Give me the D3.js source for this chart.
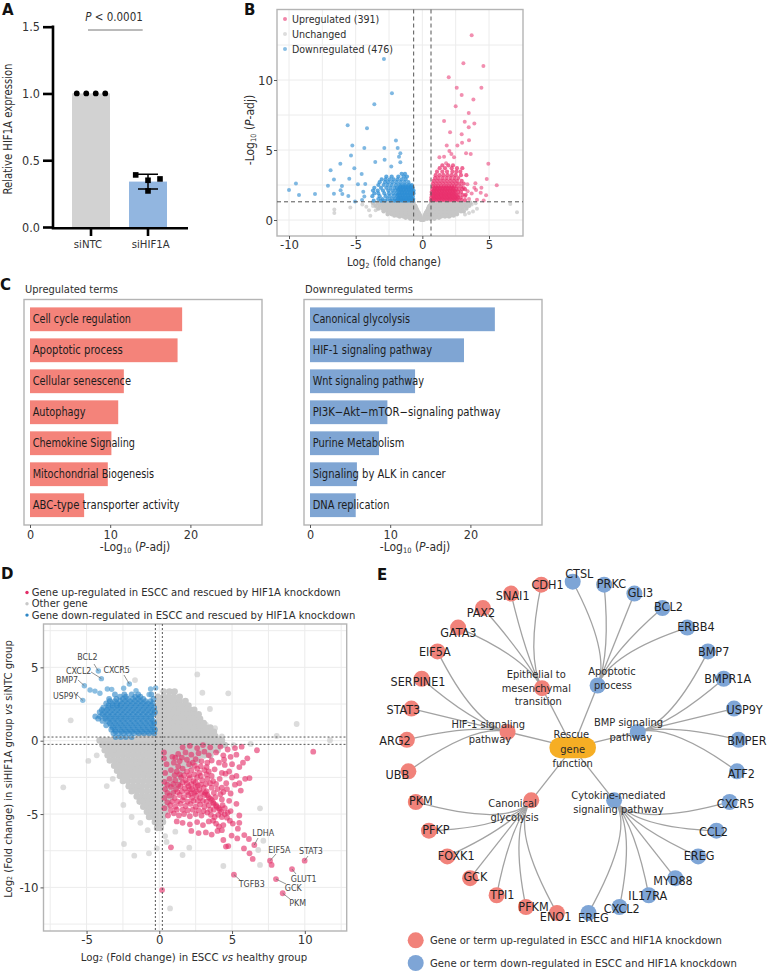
<!DOCTYPE html>
<html><head><meta charset="utf-8">
<script src="https://cdn.jsdelivr.net/npm/d3@7/dist/d3.min.js"></script>
<style>
html,body{margin:0;padding:0;background:#fff}
svg{display:block}
text{font-family:"DejaVu Sans Condensed","DejaVu Sans","Noto Sans",sans-serif;fill:#2e2e2e}
</style></head><body>
<script>
// ---------- Panel A data
const aCategories = ["siNTC","siHIF1A"];
const aMeans = [1, 0.34];
const aError = [0, 0.055];
const aPointsNTC = [1,1,1,1];
const aPointsKD = [0.39,0.35,0.36,0.27];
const aTicks = [0,0.5,1,1.5];

// ---------- Panel B data (x = log2FC, y = -log10 p)
const bUpOutliers = [[3.7,13.2],[3.08,11.2],[4.58,11],[1.98,10.2],[2.58,9.45],[4.43,9.45],[2.95,8.93],[3.83,8.6],[2.5,8.12],[3.48,7.64],[1.63,7.07],[3.18,7.02],[3.9,6.9],[3.48,6.62],[2.08,6.26],[2.95,6.12],[1.83,5.33],[2.63,5.33],[2.98,5.52],[3.5,5.69],[2.03,4.93],[2.18,4.71],[3.28,4.76],[3.63,4.71],[1.28,4.48],[1.63,4.52],[2.38,4.48],[1.78,4.05],[4.95,4.02],[4.83,2.93],[5.58,2.48],[3.98,2.62],[4.43,2.31],[3.38,2.55],[4.03,2.14],[4.38,1.95],[4.78,1.76],[3.1,2.3],[3.7,1.9],[4.1,1.45],[3.5,1.5],[4.6,1.4],[3.2,1.7],[3.9,2.3],[3.4,2.05]];
const bUpCloud = [[3.9,1.5,1.95,2.3],[3.7,1.3,1.7,2.2,2.6,3.0],[3.45,1.1,1.5,1.85,2.25,2.55,2.85],[3.2,1.0,1.3,1.6,1.9,2.2,2.5,2.9,3.3],[3.0,.95,1.2,1.5,1.8,2.1,2.4,2.7],[2.8,.85,1.1,1.35,1.6,1.85,2.1,2.35,2.6,2.95],[2.6,.8,1.05,1.3,1.55,1.8,2.05,2.3,2.55,2.8,3.1],[2.4,.8,1.0,1.2,1.4,1.6,1.8,2.0,2.2,2.4,2.6,2.9],[2.2,.75,.95,1.15,1.35,1.55,1.75,1.95,2.15,2.35,2.55,2.75,3.0,3.2],[2.0,.7,.9,1.1,1.3,1.5,1.7,1.9,2.1,2.3,2.5,2.7,2.9],[1.8,.7,.9,1.1,1.3,1.5,1.7,1.9,2.1,2.3,2.5,2.7,3.0,3.25],[1.6,.68,.88,1.08,1.28,1.48,1.68,1.88,2.08,2.28,2.48,2.68,2.88],[1.42,.66,.86,1.06,1.26,1.46,1.66,1.86,2.06,2.26,2.46,2.7,2.95,3.2],[1.5,.78,.98,1.18,1.38,1.58,1.78,1.98,2.18,2.38,2.58],[1.7,.8,1,1.2,1.4,1.6,1.8,2,2.2,2.4,2.6],[1.9,.8,1,1.2,1.4,1.6,1.8,2,2.2,2.4],[2.1,.85,1.05,1.25,1.45,1.65,1.85,2.05,2.25,2.45],[2.3,.9,1.1,1.3,1.5,1.7,1.9,2.1,2.3]];
const bDownOutliers = [[-2.88,11.5],[-2.28,9.05],[-3.6,8.26],[-5.6,6.76],[-4.15,6.55],[-5.25,5.33],[-4.35,5.14],[-2.85,5.14],[-1.98,5.67],[-1.85,5.14],[-5.35,4.6],[-1.65,4.76],[-1.75,4.52],[-3.53,4.14],[-2.83,4.31],[-1.65,4.12],[-6.15,4.02],[-2.33,3.83],[-5.1,3.69],[-6.88,3.55],[-4.55,3.29],[-5.48,2.95],[-6.63,2.9],[-9.48,2.6],[-10,2.14],[-9.25,1.79],[-8.05,1.86],[-7.08,2.45],[-6.03,2.43],[-6.13,2.12],[-6.63,1.88],[-6,1.86],[-5.55,1.71],[-4.83,2.55],[-4.28,2.57],[-4.43,2.02],[-4.35,1.67],[-4.52,1.43],[-5.05,1.33]];
const bDownCloud = [[3.3,-1.55,-1.3],[3.1,-2.7,-2.3,-1.8,-1.4,-1.15],[2.9,-3.05,-2.75,-2.45,-2.15,-1.85,-1.55,-1.25],[2.7,-3.2,-2.8,-2.55,-2.25,-1.95,-1.65,-1.35,-1.05],[2.5,-3.3,-2.9,-2.6,-2.3,-2.0,-1.75,-1.5,-1.25,-1.0,-.8],[2.3,-3.6,-3.1,-2.7,-2.4,-2.1,-1.9,-1.7,-1.5,-1.3,-1.1,-.9,-.72],[2.1,-3.7,-3.35,-2.95,-2.55,-2.25,-2.0,-1.8,-1.6,-1.4,-1.2,-1.0,-.8,-.66],[1.9,-3.6,-3.3,-2.85,-2.5,-2.2,-1.95,-1.75,-1.55,-1.35,-1.15,-.95,-.75,-.66],[1.7,-3.75,-3.2,-2.75,-2.45,-2.15,-1.9,-1.7,-1.5,-1.3,-1.1,-.9,-.72],[1.5,-3.3,-3.0,-2.6,-2.3,-2.05,-1.85,-1.65,-1.45,-1.25,-1.05,-.85,-.68],[1.38,-3.65,-3.1,-2.8,-2.4,-2.1,-1.9,-1.7,-1.5,-1.3,-1.1,-.9,-.7],[1.45,-1.75,-1.55,-1.35,-1.15,-.95,-.75],[1.6,-1.8,-1.6,-1.4,-1.2,-1,-.8],[1.8,-1.85,-1.65,-1.45,-1.25,-1.05,-.85],[2.0,-1.7,-1.5,-1.3,-1.1,-.9,-.7],[2.2,-1.8,-1.6,-1.4,-1.2,-1,-.8],[2.4,-1.65,-1.45,-1.25,-1.05,-.85]];
const bGreyRows = [[1.22,-3.7,-3.35,-3,-2.7,-2.4,-2.1,-1.8,-1.5,-1.2,-.9,-.66,.66,.9,1.2,1.5,1.8,2.1,2.4,2.7,3,3.3,3.6],[1.02,-3.5,-3.2,-2.9,-2.6,-2.3,-2,-1.7,-1.4,-1.1,-.8,-.55,.55,.8,1.1,1.4,1.7,2,2.3,2.6,2.9,3.2,3.5],[.82,-3.3,-3,-2.7,-2.4,-2.1,-1.8,-1.5,-1.2,-.9,-.65,-.45,.45,.65,.9,1.2,1.5,1.8,2.1,2.4,2.7,3,3.3],[.62,-2.9,-2.6,-2.3,-2,-1.7,-1.4,-1.1,-.8,-.55,-.35,.35,.55,.8,1.1,1.4,1.7,2,2.3,2.6,2.9,3.1],[.42,-2.6,-2.3,-2,-1.7,-1.4,-1.1,-.8,-.5,-.25,.25,.5,.8,1.1,1.4,1.7,2,2.3,2.6],[.25,-1.7,-1.4,-1.1,-.8,-.5,-.2,.2,.5,.8,1.1,1.4,1.7,2],[.1,-.9,-.6,-.35,-.12,.12,.35,.6,.9],[.02,-.1,0,.1],[1.12,-3.1,-2.8,-2.5,-2.2,-1.9,-1.6,-1.3,-1,-.72,.72,1,1.3,1.6,1.9,2.2,2.5,2.8,3.1],[.92,-2.85,-2.55,-2.25,-1.95,-1.65,-1.35,-1.05,-.75,-.5,.5,.75,1.05,1.35,1.65,1.95,2.25,2.55,2.85],[.72,-2.75,-2.45,-2.15,-1.85,-1.55,-1.25,-.95,-.7,-.42,.42,.7,.95,1.25,1.55,1.85,2.15,2.45,2.75],[.52,-2.45,-2.15,-1.85,-1.55,-1.25,-.95,-.65,-.4,-.28,.28,.4,.65,.95,1.25,1.55,1.85,2.15,2.45],[.33,-2.1,-1.85,-1.55,-1.25,-.95,-.65,-.35,-.18,.18,.35,.65,.95,1.25,1.55,1.85,2.1,2.35],[.17,-1.25,-.95,-.65,-.4,-.15,.15,.4,.65,.95,1.25]];
const bGreyOutliers = [[-6.6,.75],[-6.6,.5],[-5.4,.9],[-4.2,.95],[-3.9,.3],[-3.5,.7],[-4.5,1.1],[-4,.7],[-3.7,1],[3.2,.4],[3.5,.5],[6.6,1.15],[7.1,.55],[4.1,.8],[3.8,.6],[3.7,1.1],[4,1.2]];
const bLegend = ["Upregulated (391)","Unchanged","Downregulated (476)"];

// ---------- Panel C data
const cUpTerms = ["Cell cycle regulation","Apoptotic process","Cellular senescence","Autophagy","Chemokine Signaling","Mitochondrial Biogenesis","ABC-type transporter activity"];
const cUpValues = [18.97,18.4,11.7,11,10.15,9.7,6.75];
const cDownTerms = ["Canonical glycolysis","HIF-1 signaling pathway","Wnt signaling pathway","PI3K\u2212Akt\u2212mTOR\u2212signaling pathway","Purine Metabolism","Signaling by ALK in cancer","DNA replication"];
const cDownValues = [23.05,19.2,13.1,9.65,8.6,5.85,5.7];
const cTicks = [0,10,20];

// ---------- Panel D data
const dGreyRows = [[3.35,.3,.7,1.05],[3.0,-.1,.3,.65,1,1.4],[2.7,0,.35,.7,1.05,1.4,1.8],[2.4,-.1,.25,.6,.95,1.3,1.65,2],[2.1,0,.35,.7,1.05,1.4,1.75,2.1,2.4],[1.8,-.1,.25,.6,.95,1.3,1.65,2,2.35,2.7],[1.5,0,.35,.7,1.05,1.4,1.75,2.1,2.45,2.8],[1.2,-.1,.25,.6,.95,1.3,1.65,2,2.35,2.7,3.05],[.9,0,.35,.7,1.05,1.4,1.75,2.1,2.45,2.8,3.15,3.5],[.6,-.1,.25,.6,.95,1.3,1.65,2,2.35,2.7,3.05,3.4,3.75],[.3,-1.4,-1.1,-.75,-.4,0,.35,.7,1.05,1.4,1.75,2.1,2.45,2.8,3.15,3.5,3.85],[.02,-4.1,-3.75,-3.4,-3.05,-2.7,-2.35,-2,-1.65,-1.3,-.95,-.6,-.25,.1,.45,.8,1.15,1.5,1.85,2.2,2.55,2.9,3.25,3.6,3.95,4.3],[-.3,-3.9,-3.55,-3.2,-2.85,-2.5,-2.15,-1.8,-1.45,-1.1,-.75,-.4,-.05,.3,.65,1,1.35,1.7,2.05,2.4,2.75,3.1,3.45,3.8,4.15,4.5],[-.65,-3.75,-3.4,-3.05,-2.7,-2.35,-2,-1.65,-1.3,-.95,-.6,-.25,.1,.45,.8,1.15,1.5,1.85,2.2,2.55,2.9,3.25,3.6,4],[-1,-3.55,-3.2,-2.85,-2.5,-2.15,-1.8,-1.45,-1.1,-.75,-.4,-.05,.3,.65,1,1.35,1.7,2.05,2.4,2.75,3.1,3.5],[-1.35,-3.4,-3.05,-2.7,-2.35,-2,-1.65,-1.3,-.95,-.6,-.25,.1,.45,.8,1.15,1.5,1.85,2.2,2.6],[-1.7,-3.1,-2.8,-2.5,-2.15,-1.8,-1.45,-1.1,-.75,-.4,-.05,.3,.65,1,1.35,1.7,2.1],[-2.05,-2.9,-2.6,-2.3,-1.95,-1.6,-1.25,-.9,-.55,-.2,.15,.5,.85,1.2,1.6],[-2.4,-2.7,-2.4,-2.1,-1.75,-1.4,-1.05,-.7,-.35,0,.35,.7,1.05,1.4],[-2.75,-2.5,-2.15,-1.8,-1.45,-1.1,-.75,-.4,-.05,.3,.65,1,1.35],[-3.1,-2.1,-1.8,-1.5,-1.2,-.85,-.5,-.15,.2,.55,.9,1.25],[-3.45,-1.9,-1.55,-1.2,-.85,-.5,-.15,.2,.55,.95],[-3.8,-1.55,-1.25,-.95,-.65,-.3,.05,.4,.8],[-4.15,-1.35,-1.05,-.75,-.45,-.1,.25,.6],[-4.5,-1.1,-.8,-.5,-.2,.15,.5],[-4.85,-.85,-.55,-.25,.05,.4],[-5.2,-.7,-.4,-.1,.25],[-5.55,-.3,-.05,.25],[-5.95,-.15,.1]];
const dGreyOutliers = [[-6.09,1.39],[2.61,4.52],[-1.67,4.13],[2.96,3.27],[4.74,3.23],[3.48,2.16],[9.44,1.14],[8.07,.32],[11.73,.03],[6.28,-.22],[3.83,.85],[-4.88,-1.38],[-4.3,-1],[-6.6,-3.18],[-3.61,-3.09],[-3.2,-2.6],[-2.47,-4.38],[-1.9,-5.2],[-1.3,-5.6],[-.8,-6.1],[-2.43,-7.04],[-1.72,-7.84],[-.71,-7.68],[-.18,-7.34],[.4,-6.5],[1.1,-6.2],[.5,-6.9],[1.6,-7.79],[2.06,-7.29],[.74,-11.43],[4.4,-8.54],[6.92,-4.61],[7.15,-6.82],[6.8,-7.45],[6.92,-8.47],[3.2,1.1],[4.3,.3],[5.1,-.3]];
const dBlueRows = [[3.15,-3.05,-2.4,-1.9,-1.45,-.55],[2.85,-3.45,-2.95,-2.5,-2.15,-1.8,-1.45,-1.1,-.4],[2.55,-3.65,-3.25,-2.9,-2.55,-2.2,-1.85,-1.5,-1.15,-.8,-.45],[2.25,-3.85,-3.5,-3.15,-2.8,-2.45,-2.1,-1.75,-1.4,-1.05,-.7,-.35],[1.95,-4.1,-3.75,-3.4,-3.05,-2.7,-2.35,-2,-1.65,-1.3,-.95,-.6,-.3],[1.65,-4.4,-4.05,-3.7,-3.35,-3,-2.65,-2.3,-1.95,-1.6,-1.25,-.9,-.55],[1.35,-3.9,-3.55,-3.2,-2.85,-2.5,-2.15,-1.8,-1.45,-1.1,-.75,-.4],[1.05,-3.65,-3.3,-2.95,-2.6,-2.25,-1.9,-1.55,-1.2,-.85,-.5],[.75,-3.3,-3.05,-2.7,-2.35,-2,-1.65,-1.3,-.95,-.6,-.3],[.5,-3.15,-2.8,-2.45,-2.1,-1.75,-1.4,-1.05,-.7,-.35],[.25,-3,-2.65,-2.3,-1.9],[3,-2.7,-2.3,-1.65,-1.3],[2.7,-3.4,-3.05,-2.7,-2.35,-2,-1.65,-1.3,-.95,-.6],[2.4,-3.5,-3.2,-2.9,-2.65,-2.3,-1.95,-1.6,-1.25,-.9,-.55],[2.1,-3.95,-3.6,-3.25,-2.9,-2.55,-2.2,-1.85,-1.5,-1.15,-.8,-.45],[1.8,-3.9,-3.55,-3.2,-2.85,-2.5,-2.15,-1.8,-1.45,-1.1,-.75,-.4],[1.5,-4.2,-3.7,-3.35,-3,-2.65,-2.3,-1.95,-1.6,-1.25,-.9,-.55],[1.2,-3.4,-3.05,-2.7,-2.35,-2,-1.65,-1.3,-.95,-.6,-.35],[.9,-3.2,-2.85,-2.5,-2.15,-1.8,-1.45,-1.1,-.75,-.4],[.62,-3,-2.6,-2.25,-1.9,-1.55,-1.2,-.85,-.5]];
const dBlueOutliers = [[-4.19,4.75],[-3.98,4.23],[-2.06,3.87],[-5.15,3.75],[-5.26,2.75],[-4.76,3.46],[-4.42,3.38],[-4.08,3.23],[-3.57,3.52],[-3.27,3.5],[-2.45,3.58],[-1.6,3.41],[-.6,3.52],[-.25,3.6],[-.7,3.15]];
const dPink = [[1.6,-.45],[2.1,-.35],[2.6,-.5],[3,-.3],[3.5,-.45],[4.2,-.4],[4.7,-.6],[5.2,-.5],[5.66,-.41],[.9,-1.1],[1.3,-.9],[1.8,-.8],[2.2,-.95],[2.7,-.85],[3.1,-.75],[3.4,-1],[3.9,-.8],[4.4,-1],[4.9,-1.1],[5.3,-.95],[.5,-1.6],[1,-1.5],[1.4,-1.4],[1.9,-1.3],[2.3,-1.5],[2.5,-1.25],[2.9,-1.4],[3.3,-1.5],[3.6,-1.35],[4.1,-1.5],[4.5,-1.65],[5,-1.6],[5.5,-1.8],[.4,-2.2],[.8,-2],[1.2,-2.1],[1.6,-1.9],[1.9,-2.1],[2.2,-2],[2.6,-1.9],[2.75,-2.2],[3.1,-2],[3.4,-2.1],[3.8,-1.95],[4.3,-2.2],[4.8,-2.1],[5.3,-2.4],[5.9,-2.6],[.35,-2.8],[.7,-2.6],[1.1,-2.7],[1.5,-2.5],[1.8,-2.7],[2.1,-2.55],[2.35,-2.75],[2.6,-2.5],[2.95,-2.7],[3.3,-2.6],[3.7,-2.75],[4.15,-2.6],[4.6,-2.9],[5.2,-3],[6.2,-2.55],[.4,-3.3],[.8,-3.15],[1.15,-3.3],[1.45,-3.1],[1.75,-3.25],[2,-3.1],[2.25,-3.3],[2.5,-3.15],[2.75,-3.35],[3.05,-3.2],[3.25,-3.45],[3.6,-3.2],[4,-3.3],[4.4,-3.5],[4.9,-3.6],[5.6,-3.4],[.35,-3.9],[.7,-3.75],[1.05,-3.9],[1.4,-3.7],[1.7,-3.85],[2,-3.7],[2.25,-3.9],[2.55,-3.75],[2.8,-3.9],[3.1,-3.7],[3.4,-3.85],[3.6,-4.05],[3.85,-3.85],[4.3,-4],[4.8,-4.1],[5.3,-4.3],[.35,-4.6],[.75,-4.4],[1.1,-4.5],[1.45,-4.3],[1.8,-4.45],[2.15,-4.3],[2.5,-4.5],[2.8,-4.35],[3.1,-4.5],[3.4,-4.4],[3.75,-4.3],[3.95,-4.5],[4.15,-4.7],[4.35,-4.4],[4.9,-4.8],[5.5,-5.1],[.6,-5.1],[1,-4.95],[1.35,-5.1],[1.7,-5],[2.1,-5.15],[2.5,-5],[2.9,-5.1],[3.3,-4.9],[3.55,-5.05],[3.8,-5.2],[4.05,-5.05],[4.3,-5.2],[4.5,-5],[4.65,-5.25],[4.85,-5.45],[5.05,-5.65],[5.5,-5.6],[1.2,-5.5],[1.6,-5.6],[2.1,-5.7],[2.6,-5.55],[3,-5.75],[3.4,-5.5],[3.7,-5.45],[3.9,-5.65],[4.1,-5.85],[4.4,-5.75],[5.4,-6],[2.2,-6.15],[2.7,-6.3],[3.2,-6.25],[3.6,-6.4],[4,-6.15],[4.3,-6.1],[3.3,-3.7],[3.5,-3.95],[3.7,-4.2],[3.9,-4.4],[4.1,-4.6],[3.15,-3.55],[1.9,-2.9],[2.4,-3.55],[2.1,-3.3],[1.3,-1.75],[2.65,-3.05],[.32,-1.2],[.32,-.8],[.8,-7.27],[.19,-10.18],[5.84,-6.43],[6.16,-6.7],[5.82,-7.34],[6.2,-7.68],[6.42,-8.06],[4.4,-6.77],[4.97,-6.47],[5.36,-6.66],[4.58,-7.22],[4.74,-7.18],[6.71,-.65],[10.58,-.75],[6.53,-7.11],[7.61,-8.18],[7.72,-8.47],[9.99,-8.18],[9.12,-8.75],[8.02,-9.43],[8.48,-10.4],[5.13,-9.13],[1.1,-1.15],[1.55,-1.15],[2.05,-1.6],[2.45,-1.7],[2.85,-1.75],[3.25,-1.8],[1.05,-2.35],[1.4,-2.3],[1.7,-2.35],[2.05,-2.35],[2.4,-2.3],[2.85,-2.4],[3.25,-2.3],[3.6,-2.4],[.55,-3],[.95,-2.95],[1.3,-3],[1.6,-2.85],[2.2,-2.95],[2.5,-2.85],[2.85,-3],[3.2,-2.95],[3.5,-2.9],[3.9,-2.95],[.55,-3.55],[.95,-3.55],[1.25,-3.5],[1.55,-3.45],[1.9,-3.5],[2.2,-3.6],[2.55,-3.45],[2.9,-3.55],[3.75,-3.55],[4.2,-3.65],[.55,-4.2],[.9,-4.15],[1.25,-4.15],[1.6,-4.05],[1.95,-4.15],[2.35,-4.1],[2.65,-4.1],[3,-4.1],[3.25,-4.15],[.8,-4.75],[1.2,-4.7],[1.6,-4.7],[1.95,-4.75],[2.3,-4.7],[2.7,-4.75],[3.05,-4.8],[3.5,-4.7],[3.75,-4.7],[4.25,-4.85],[4.5,-4.6],[4.7,-4.9],[4.3,-3.2],[4.65,-3.3],[4.55,-2.25],[5,-2.5],[4.45,-1.3],[5.75,-1.5],[5.5,-2.9],[6.05,-1.2]];
const dLegend = ["Gene up-regulated in ESCC and rescued by HIF1A knockdown","Other gene","Gene down-regulated in ESCC and rescued by HIF1A knockdown"];
const dGeneLabels = ["BCL2","CXCL2","CXCR5","BMP7","USP9Y","LDHA","EIF5A","STAT3","GLUT1","TGFB3","GCK","PKM"];
const dGeneValues = [[-4.19,4.75],[-3.98,4.23],[-2.06,3.87],[-5.15,3.75],[-5.26,2.75],[6.53,-7.11],[7.61,-8.18],[9.99,-8.18],[9.12,-8.75],[5.13,-9.13],[8.02,-9.43],[8.48,-10.4]];

// ---------- Panel E data
const eApoptotic = ["CTSL","PRKC","GLI3","BCL2","ERBB4"];
const eBMP = ["BMP7","BMPR1A","USP9Y","BMPER","ATF2"];
const eCytokine = ["CXCR5","CCL2","EREG","MYD88","IL17RA","CXCL2","EREG"];
const eCanonical = ["ENO1","PFKM","TPI1","GCK","FOXK1","PFKP","PKM"];
const eHIF = ["UBB","ARG2","STAT3","SERPINE1","EIF5A"];
const eEMT = ["GATA3","PAX2","SNAI1","CDH1"];
const eHubs = [
 {name:"Apoptotic process",lines:["Apoptotic","process"],up:false,leaves:eApoptotic},
 {name:"BMP signaling pathway",lines:["BMP signaling","pathway"],up:false,leaves:eBMP},
 {name:"Cytokine-mediated signaling pathway",lines:["Cytokine-mediated","signaling pathway"],up:false,leaves:eCytokine},
 {name:"Canonical glycolysis",lines:["Canonical","glycolysis"],up:true,leaves:eCanonical},
 {name:"HIF-1 signaling pathway",lines:["HIF-1 signaling","pathway"],up:true,leaves:eHIF},
 {name:"Epithelial to mesenchymal transition",lines:["Epithelial to","mesenchymal","transition"],up:true,leaves:eEMT}];
const eLegend = ["Gene or term up-regulated in ESCC and HIF1A knockdown","Gene or term down-regulated in ESCC and HIF1A knockdown"];

// ---------- helpers
const RED="#f1827a", BLUE="#7ea5d6", GRID="#ececec", FRAME="#b4b4b4";
const svg=d3.select("body").append("svg").attr("width",771).attr("height",973).attr("viewBox","0 0 771 973");
const expand=rows=>rows.flatMap(([y,...xs])=>xs.map(x=>[x,y]));
function rich(g,x,y,parts,size,opts={}){
  const t=g.append("text").attr("x",x).attr("y",y).attr("font-size",size).attr("text-anchor",opts.anchor||"middle").attr("dominant-baseline","central");
  if(opts.rotate) t.attr("transform",`rotate(${opts.rotate} ${x} ${y})`);
  if(opts.fill) t.style("fill",opts.fill);
  if(opts.width) t.attr("textLength",opts.width).attr("lengthAdjust","spacingAndGlyphs");
  parts.forEach(p=>{
    const s=t.append("tspan").text(p.t);
    if(p.i) s.attr("font-style","italic");
    if(p.sub) s.attr("font-size",size*0.62).attr("dy",size*0.22);
    if(p.after) s.attr("dy",-size*0.22);
  });
  return t;
}
const letter=(l,x,y)=>svg.append("text").attr("x",x).attr("y",y).attr("font-size",15).attr("font-weight","700").style("font-family","'DejaVu Sans','Noto Sans',sans-serif").style("fill","#111").text(l);
letter("A",2,14.5);letter("B",244,14.5);letter("C",0,290);letter("D",1,579);letter("E",377,580);

function styleAxis(g,size,col){
  g.selectAll("text").attr("font-size",size).style("fill",col||"#333");
  g.select(".domain").remove();
}

// ---------- Panel A
(function(){
  const g=svg.append("g");
  const y=d3.scaleLinear().domain([0,1.5]).range([227,26.7]);
  const x=d3.scaleBand().domain(aCategories).range([72,167]).paddingInner(1/3).paddingOuter(0);
  g.selectAll(".bar").data(aMeans).join("rect").attr("x",(d,i)=>x(aCategories[i])).attr("width",x.bandwidth())
    .attr("y",d=>y(d)).attr("height",d=>y(0)-y(d)).attr("fill",(d,i)=>i?"#92b6e0":"#d2d2d2");
  const yA=g.append("g").attr("transform","translate(53,0)").call(d3.axisLeft(y).tickValues(aTicks).tickFormat(d3.format(".1f")).tickSize(10).tickPadding(3));
  styleAxis(yA,12.5);yA.selectAll("line").attr("stroke","#000").attr("stroke-width",2.6);
  const xA=g.append("g").attr("transform","translate(0,227)").call(d3.axisBottom(x).tickSize(9).tickPadding(4));
  styleAxis(xA,11.3);xA.selectAll("line").attr("stroke","#000").attr("stroke-width",2.6);
  xA.selectAll("text").attr("dx",(d,i)=>i?2.7:-3);
  g.append("path").attr("d",d3.line()([[53,25.4],[53,228.3],[188,228.3]])).attr("fill","none").attr("stroke","#000").attr("stroke-width",2.6);
  const cx=x(aCategories[0]), w=x.bandwidth();
  g.selectAll(".p1").data(aPointsNTC).join("circle").attr("cx",(d,i)=>cx+w*(i+0.5)/4).attr("cy",d=>y(d)).attr("r",2.9).attr("fill","#000");
  const cx2=x(aCategories[1])+w/2, sx=[-12.3,0,12,0];
  g.selectAll(".p2").data(aPointsKD).join("rect").attr("x",(d,i)=>cx2+sx[i]-2.8).attr("y",d=>y(d)-2.8).attr("width",5.6).attr("height",5.6).attr("fill","#000");
  const hi=y(aMeans[1]+aError[1]), lo=y(aMeans[1]-aError[1]);
  g.append("path").attr("d",`M${cx2-10},${hi}H${cx2+10}M${cx2},${hi}V${lo}M${cx2-10},${lo}H${cx2+10}`).attr("fill","none").attr("stroke","#000").attr("stroke-width",1.5);
  rich(g,8,129,[{t:"Relative HIF1A expression"}],11.5,{rotate:-90,width:131});
  rich(g,114,17,[{t:"P",i:true},{t:" < 0.0001"}],11.5);
  g.append("line").attr("x1",88).attr("x2",142.7).attr("y1",30).attr("y2",30).attr("stroke","#777").attr("stroke-width",1);
})();

function frameGrid(g,L,R,T,B,x,y,xg,yg){
  g.selectAll(".gx").data(xg).join("line").attr("x1",x).attr("x2",x).attr("y1",T).attr("y2",B).attr("stroke",GRID);
  g.selectAll(".gy").data(yg).join("line").attr("y1",y).attr("y2",y).attr("x1",L).attr("x2",R).attr("stroke",GRID);
  g.append("rect").attr("x",L).attr("y",T).attr("width",R-L).attr("height",B-T).attr("fill","none").attr("stroke",FRAME).attr("stroke-width",1.4);
}
function points(g,data,x,y,r,col,op){
  g.append("g").selectAll("circle").data(data).join("circle").attr("cx",d=>x(d[0])).attr("cy",d=>y(d[1])).attr("r",r).attr("fill",col).attr("opacity",op);
}

// ---------- Panel B
(function(){
  const g=svg.append("g"), L=277,R=523,T=9.5,B=236;
  const x=d3.scaleLinear().domain([-10,5]).range([289,489]);
  const y=d3.scaleLinear().domain([0,10]).range([220,80]);
  frameGrid(g,L,R,T,B,x,y,[-10,-7.5,-5,-2.5,0,2.5,5],[0,2.5,5,7.5,10,12.5]);
  const xA=g.append("g").attr("transform",`translate(0,${B})`).call(d3.axisBottom(x).tickValues([-10,-5,0,5]).tickFormat(d=>d<0?"-"+(-d):d).tickSize(3).tickPadding(1));
  styleAxis(xA,13);xA.selectAll("line").attr("stroke","#555");
  const yA=g.append("g").attr("transform",`translate(${L},0)`).call(d3.axisLeft(y).tickValues([0,5,10]).tickSize(3).tickPadding(1));
  styleAxis(yA,13);yA.selectAll("line").attr("stroke","#555");
  points(g,bGreyOutliers,x,y,2,"#c6c6c6",.7);
  points(g,expand(bGreyRows),x,y,2.3,"#c6c6c6",1);
  points(g,bDownOutliers,x,y,2,"#3a92d2",.65);
  points(g,expand(bDownCloud),x,y,2.1,"#2d8ed4",.75);
  points(g,bUpOutliers,x,y,2,"#e8336f",.55);
  points(g,expand(bUpCloud),x,y,2.1,"#e92f6c",.72);
  const dashCol="#555", dashArr="4 3";
  [-.65,.65].forEach(v=>g.append("line").attr("x1",x(v)).attr("x2",x(v)).attr("y1",T).attr("y2",B).attr("stroke",dashCol).attr("stroke-dasharray",dashArr));
  g.append("line").attr("x1",L).attr("x2",R).attr("y1",y(1.3)).attr("y2",y(1.3)).attr("stroke",dashCol).attr("stroke-dasharray",dashArr);
  rich(g,394,262,[{t:"Log"},{t:"2",sub:true},{t:" (fold change)",after:true}],11.4);
  rich(g,250,130,[{t:"-Log"},{t:"10",sub:true},{t:" (",after:true},{t:"P",i:true},{t:"-adj)"}],12,{rotate:-90});
  const cols=["#e8336f","#c6c6c6","#3a92d2"], widths=[87.3,54.3,101];
  bLegend.forEach((t,i)=>{
    g.append("circle").attr("cx",285).attr("cy",19+15*i).attr("r",2).attr("fill",cols[i]).attr("opacity",.6);
    rich(g,292,19+15*i,[{t}],11,{anchor:"start",width:widths[i]});
  });
})();

// ---------- Panel C
function barPanel(L,title,titleW,terms,vals,col,widths){
  const g=svg.append("g"),T=299.5,B=525;
  const x=d3.scaleLinear().domain([0,10]).range([L+6,L+86.2]);
  const y=d3.scaleBand().domain(terms).range([T+4.3,B-4.3]).paddingInner(0.232).paddingOuter(0.116);
  g.append("rect").attr("x",L).attr("y",T).attr("width",238).attr("height",B-T).attr("fill","none").attr("stroke",FRAME).attr("stroke-width",1.4);
  g.selectAll(".b").data(vals).join("rect").attr("x",x(0)).attr("y",(d,i)=>y(terms[i])).attr("height",y.bandwidth()).attr("width",d=>x(d)-x(0)).attr("fill",col);
  g.selectAll(".l").data(terms).join("text").attr("x",x(0)+2.7).attr("y",d=>y(d)+y.bandwidth()/2).attr("dominant-baseline","central").attr("font-size",11.8).style("fill","#1d1d1d")
    .attr("textLength",(d,i)=>widths[i]).attr("lengthAdjust","spacingAndGlyphs").text(d=>d);
  const a=g.append("g").attr("transform",`translate(0,${B})`).call(d3.axisBottom(x).tickValues(cTicks).tickSize(3).tickPadding(2));
  styleAxis(a,12.5);a.selectAll("line").attr("stroke","#555");
  rich(g,L+1,289,[{t:title}],11.3,{anchor:"start",width:titleW});
  rich(g,L+111,547,[{t:"-Log"},{t:"10",sub:true},{t:" (",after:true},{t:"P",i:true},{t:"-adj)"}],12);
}
barPanel(24,"Upregulated terms",93,cUpTerms,cUpValues,"#f4837a",[98.3,90,98.3,52.7,102.3,121.3,146.7]);
barPanel(304,"Downregulated terms",108,cDownTerms,cDownValues,"#7fa5d3",[97.3,119.3,111.3,187.7,91.7,133,76.7]);

// ---------- Panel D
(function(){
  const g=svg.append("g"),L=43.5,R=346.7,T=624,B=931;
  const x=d3.scaleLinear().domain([0,10]).range([159.3,304.8]);
  const y=d3.scaleLinear().domain([0,-10]).range([740.7,887.4]);
  frameGrid(g,L,R,T,B,x,y,[-7.5,-5,-2.5,0,2.5,5,7.5,10,12.5],[7.5,5,2.5,0,-2.5,-5,-7.5,-10,-12.5]);
  const xA=g.append("g").attr("transform",`translate(0,${B})`).call(d3.axisBottom(x).tickValues([-5,0,5,10]).tickFormat(d=>d<0?"-"+(-d):d).tickSize(3).tickPadding(1));
  styleAxis(xA,13);xA.selectAll("line").attr("stroke","#555");
  const yA=g.append("g").attr("transform",`translate(${L},0)`).call(d3.axisLeft(y).tickValues([5,0,-5,-10]).tickFormat(d=>d<0?"-"+(-d):d).tickSize(3).tickPadding(2));
  styleAxis(yA,13);yA.selectAll("line").attr("stroke","#555");
  points(g,dGreyOutliers,x,y,2.9,"#c9c9c9",.65);
  points(g,expand(dGreyRows),x,y,3.3,"#c9c9c9",1);
  points(g,expand(dBlueRows),x,y,2.9,"#2b85c6",.62);
  points(g,dBlueOutliers,x,y,2.7,"#5aa2d4",.7);
  points(g,dPink,x,y,2.9,"#e32d68",.62);
  [-.27,.21].forEach(v=>g.append("line").attr("x1",x(v)).attr("x2",x(v)).attr("y1",T).attr("y2",B).attr("stroke","#555").attr("stroke-dasharray","2 2"));
  [.25,-.25].forEach(v=>g.append("line").attr("x1",L).attr("x2",R).attr("y1",y(v)).attr("y2",y(v)).attr("stroke","#555").attr("stroke-dasharray","2 2"));
  const labelPos=[[87.3,657],[78.7,670.7],[116.7,670.3],[67,680],[65.7,695.7],[263.3,833.3],[279.3,849.7],[311,851.3],[303.7,878.7],[251.7,883.7],[293.3,887.7],[297.7,902.7]];
  const leaderEnd=[[94,664],[91,672],[124,675],[78,680],[76,694],[258,838],[276,854],[308,856],[296,874],[241,881],[286,884],[290,899]];
  dGeneValues.forEach((v,i)=>{
    g.append("line").attr("x1",x(v[0])).attr("y1",y(v[1])).attr("x2",leaderEnd[i][0]).attr("y2",leaderEnd[i][1]).attr("stroke","#666").attr("stroke-width",.7);
    rich(g,labelPos[i][0],labelPos[i][1],[{t:dGeneLabels[i]}],8.8,{fill:"#444"});
  });
  rich(g,194,956.7,[{t:"Log"},{t:"2",sub:true},{t:" (Fold change) in ESCC ",after:true},{t:"vs",i:true},{t:"  healthy group"}],11.3);
  rich(g,8,769,[{t:"Log"},{t:"2",sub:true},{t:" (Fold change) in siHIF1A group ",after:true},{t:"vs",i:true},{t:"  siNTC group"}],11.2,{rotate:-90});
  const cols=["#e32d68","#c8c8c8","#2e87c6"], widths=[309,56,323.7];
  dLegend.forEach((t,i)=>{
    g.append("circle").attr("cx",27).attr("cy",592.5+11.3*i).attr("r",1.7).attr("fill",cols[i]);
    rich(g,31.7,592+11.4*i,[{t}],11.3,{anchor:"start",width:widths[i]});
  });
})();

// ---------- Panel E
(function(){
  const g=svg.append("g");
  const CX=572.7,CY=747.7;
  const root=d3.hierarchy({name:"Rescue",children:eHubs.map(h=>({...h,children:h.leaves.map(n=>({name:n,up:h.up}))}))});
  d3.cluster().size([2*Math.PI,1]).separation(()=>1)(root);
  const step=2*Math.PI/root.leaves().length;
  const R=[0,67,166], CTRL=102;
  const ang=d=>d.x-step/2;
  const polar=(a,r)=>[CX+r*Math.sin(a),CY-r*Math.cos(a)];
  const pos=d=>polar(ang(d),R[d.depth]);
  const edges=g.append("g").attr("fill","none").attr("stroke","#a2a2a2").attr("stroke-width",1.3);
  root.links().forEach(l=>{
    const a=pos(l.target);
    if(l.source.depth===0){
      edges.append("line").attr("x1",CX).attr("y1",CY).attr("x2",a[0]).attr("y2",a[1]);
    } else {
      const s=pos(l.source), c=polar(ang(l.source),CTRL), p=d3.path();
      p.moveTo(s[0],s[1]);p.quadraticCurveTo(c[0],c[1],a[0],a[1]);
      edges.append("path").attr("d",p.toString());
    }
  });
  const nodes=root.descendants().filter(d=>d.depth>0);
  g.selectAll(".n").data(nodes).join("circle").attr("cx",d=>pos(d)[0]).attr("cy",d=>pos(d)[1]).attr("r",8).attr("fill",d=>d.data.up?RED:BLUE);
  g.append("rect").attr("x",CX-23.3).attr("y",CY-10.5).attr("width",46.6).attr("height",21).attr("rx",10.5).attr("fill","#f6ae24");
  const off=[[6.6,-9],[7.3,-1.6],[6,-2],[6,-1.7],[8.7,-1.7],[5.7,-.3],[4,-.3],[10.6,0],[8.4,-.3],[4.3,1.7],[6,1],[-3,.6],[1,-1.7],[-2.3,1.4],[-1,0],[2.3,.7],[5,4],[-1.3,3.3],[7.6,-.7],[5.7,-1.7],[5.3,-1.7],[9,-1.7],[7,-1.3],[5,-1.7],[-11,2.7],[-12,0],[-8,0],[-3.7,2],[-2.7,-.3],[.3,4.4],[-2,4.3],[1.7,1.7],[6.3,-1]];
  root.leaves().forEach((d,i)=>{const p=pos(d);rich(g,p[0]+off[i][0],p[1]+off[i][1],[{t:d.data.name}],12.5,{fill:"#1f1f1f"});});
  const hubOff=[[[14.4,-14],[15.4,-.4]],[[-9.3,-9.7],[-7,4.7]],[[4.3,-5.7],[4.3,8.6]],[[-18.7,3],[-16.7,16.6]],[[-19.3,-7.6],[-17.7,7]],[[-5.7,-14.3],[-5.7,-.3],[-3.7,13.3]]];
  root.children.forEach((h,i)=>{const p=pos(h);h.data.lines.forEach((t,j)=>rich(g,p[0]+hubOff[i][j][0],p[1]+hubOff[i][j][1],[{t}],11,{fill:"#2a2a2a"}));});
  ["Rescue","gene","function"].forEach((t,i)=>rich(g,CX-(i?0:1.4),CY-13.4+14*i+(i?.3:0),[{t}],11,{fill:"#2a2a2a"}));
  const widths=[292,307];
  eLegend.forEach((t,i)=>{
    g.append("circle").attr("cx",415.7).attr("cy",940.3+22.7*i).attr("r",8).attr("fill",i?BLUE:RED);
    rich(g,430,940.3+22.7*i,[{t}],11.3,{anchor:"start",width:widths[i]});
  });
})();
</script>
</body></html>
